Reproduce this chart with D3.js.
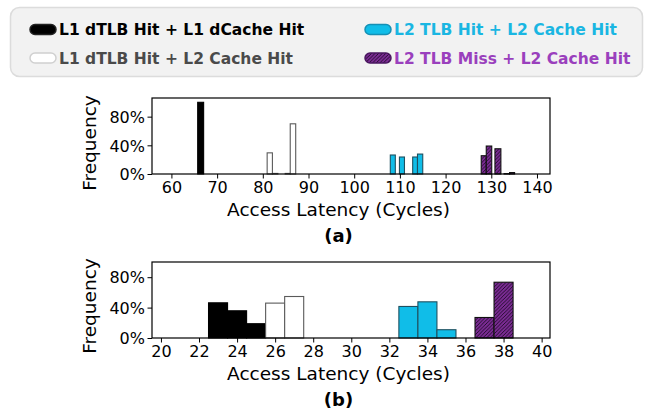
<!DOCTYPE html>
<html><head><meta charset="utf-8">
<script src="https://cdn.jsdelivr.net/npm/d3@7"></script>
<style>
body{margin:0;background:#fff;}
svg{display:block;font-family:"DejaVu Sans",sans-serif;}
</style>
</head><body>
<svg id="c" width="652" height="414"></svg>
<script>
// ---------- data ----------
const seriesNames = ["L1 dTLB Hit + L1 dCache Hit", "L1 dTLB Hit + L2 Cache Hit",
                     "L2 TLB Hit + L2 Cache Hit", "L2 TLB Miss + L2 Cache Hit"];
// panel (a): histogram bins (start, end, fraction) per series
const aBinStart = [[65.75], [80.95, 82.1, 84.9, 86.0], [107.9, 109.9, 112.8, 113.85], [127.8, 128.9, 130.8, 132.8, 134.0]];
const aBinEnd   = [[67.05], [82.1, 83.3, 86.0, 87.2], [109.0, 111.0, 113.85, 115.0], [128.9, 130.1, 132.1, 134.0, 135.1]];
const aFreq     = [[1.0], [0.295, 0.008, 0.008, 0.70], [0.265, 0.237, 0.237, 0.278], [0.255, 0.39, 0.352, 0.005, 0.02]];
const aXTicks = [60, 70, 80, 90, 100, 110, 120, 130, 140];
// panel (b): unit-width bins centred on latency values
const bLatency = [[23, 24, 25], [26, 27], [33, 34, 35], [37, 38]];
const bFreq    = [[0.463, 0.358, 0.188], [0.459, 0.546], [0.415, 0.476, 0.109], [0.27, 0.734]];
const bXTicks = [20, 22, 24, 26, 28, 30, 32, 34, 36, 38, 40];
const yTicks = [0, 0.4, 0.8];
const panelLabels = ["(a)", "(b)"];
const xTitle = "Access Latency (Cycles)";
const yTitle = "Frequency";

// ---------- styles ----------
const fills   = ["#000000", "#ffffff", "#10bde8", "url(#hatch)"];
const strokes = ["#000000", "#5a5a5a", "#1f5060", "#111111"];
const legendStrokes = ["#222222", "#d0d0d0", "#1590b5", "#4a1760"];
const textColors = ["#000000", "#4a4a4a", "#1ab6e2", "#9a40bd"];

const svg = d3.select("#c");
const defs = svg.append("defs");
const pat = defs.append("pattern").attr("id", "hatch").attr("patternUnits", "userSpaceOnUse")
  .attr("width", 3.6).attr("height", 3.6);
pat.append("rect").attr("width", 3.6).attr("height", 3.6).attr("fill", "#7b2b94");
pat.append("path").attr("d", "M-1,1 L1,-1 M0,3.6 L3.6,0 M2.6,4.6 L4.6,2.6")
  .attr("stroke", "#1a0a22").attr("stroke-width", 0.9);

// ---------- legend ----------
svg.append("rect").attr("x", 10.5).attr("y", 7.5).attr("width", 632).attr("height", 69)
  .attr("rx", 9).attr("fill", "#f2f2f2").attr("stroke", "#dcdcdc").attr("stroke-width", 1.5);
const legPos = [[30, 29.5], [30, 58], [365, 29.5], [365, 58]];
seriesNames.forEach((name, i) => {
  const [lx, ly] = legPos[i];
  svg.append("rect").attr("x", lx).attr("y", ly - 5).attr("width", 26).attr("height", 10)
    .attr("rx", 5).attr("fill", fills[i]).attr("stroke", legendStrokes[i]).attr("stroke-width", 1.5);
  svg.append("text").attr("x", lx + 29).attr("y", ly + 5.5).attr("fill", textColors[i])
    .attr("font-weight", "bold").attr("font-size", "15.5px").text(name);
});

// ---------- panels ----------
function panel(cfg) {
  const left = 152, right = 550;
  const x = d3.scaleLinear().domain(cfg.xDomain).range([left, right]);
  const y = d3.scaleLinear().domain(cfg.yDomain).range([cfg.bottom, cfg.top]);
  const g = svg.append("g");

  cfg.bars.forEach(b => {
    g.append("rect")
      .attr("x", x(b.x0)).attr("width", x(b.x1) - x(b.x0))
      .attr("y", y(b.v)).attr("height", y(0) - y(b.v))
      .attr("fill", fills[b.s]).attr("stroke", strokes[b.s]).attr("stroke-width", 1.1);
  });

  const xa = g.append("g").attr("transform", `translate(0,${cfg.bottom})`)
    .call(d3.axisBottom(x).tickValues(cfg.xTicks).tickSize(4.5).tickSizeOuter(0));
  xa.select(".domain").remove();
  xa.selectAll("line").attr("stroke", "#000").attr("stroke-width", 1);
  xa.selectAll("text").attr("y", 19).attr("dy", 0).attr("font-size", "16px")
    .attr("fill", "#000").attr("font-family", "DejaVu Sans, sans-serif");

  const ya = g.append("g").attr("transform", `translate(${left},0)`)
    .call(d3.axisLeft(y).tickValues(yTicks).tickFormat(d3.format(".0%")).tickSize(4.5).tickSizeOuter(0));
  ya.select(".domain").remove();
  ya.selectAll("line").attr("stroke", "#000").attr("stroke-width", 1);
  ya.selectAll("text").attr("x", -7).attr("dy", "0.36em").attr("font-size", "16px")
    .attr("fill", "#000").attr("font-family", "DejaVu Sans, sans-serif");

  g.append("rect").attr("x", left).attr("y", cfg.top).attr("width", right - left)
    .attr("height", cfg.bottom - cfg.top).attr("fill", "none").attr("stroke", "#000").attr("stroke-width", 1.2);

  g.append("text").attr("x", 338.5).attr("y", cfg.bottom + 42).attr("text-anchor", "middle")
    .attr("font-size", "18.5px").text(xTitle);
  g.append("text").attr("transform", `translate(${96},${cfg.yTitleCenter}) rotate(-90)`)
    .attr("text-anchor", "middle").attr("font-size", "18.5px").text(yTitle);
  g.append("text").attr("x", 338.5).attr("y", cfg.bottom + 68).attr("text-anchor", "middle")
    .attr("font-size", "18px").attr("font-weight", "bold").text(cfg.label);
}

const aBars = [];
aBinStart.forEach((arr, s) => arr.forEach((x0, k) => aBars.push({s, x0, x1: aBinEnd[s][k], v: aFreq[s][k]})));
const bBars = [];
bLatency.forEach((arr, s) => arr.forEach((c, k) => bBars.push({s, x0: c - 0.5, x1: c + 0.5, v: bFreq[s][k]})));

panel({top: 98, bottom: 174, xDomain: [55.75, 142.85], yDomain: [0, 1.06], xTicks: aXTicks,
       bars: aBars, label: panelLabels[0], yTitleCenter: 143});
panel({top: 262, bottom: 338, xDomain: [19.53, 40.44], yDomain: [0, 1.0], xTicks: bXTicks,
       bars: bBars, label: panelLabels[1], yTitleCenter: 306});
</script>
</body></html>
